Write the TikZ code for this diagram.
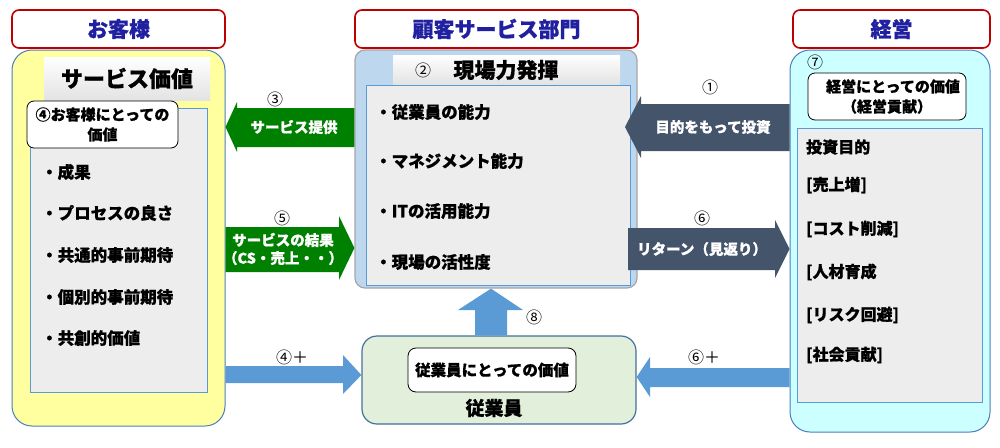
\documentclass[tikz,border=0pt]{standalone}
\usepackage{fontspec}
\setmainfont{Noto Sans CJK JP}[BoldFeatures={FakeBold=0.8}]
\newcommand\fsz[2]{\fontsize{#1}{#2}\selectfont}
\definecolor{hdrred}{RGB}{192,0,0}
\definecolor{navy}{RGB}{32,32,160}
\definecolor{custyel}{RGB}{255,255,160}
\definecolor{pborder}{RGB}{74,126,187}
\definecolor{ibox}{RGB}{237,237,237}
\definecolor{iborder}{RGB}{91,155,213}
\definecolor{midfill}{RGB}{189,215,238}
\definecolor{mgtfill}{RGB}{204,255,255}
\definecolor{grn}{RGB}{0,128,0}
\definecolor{slate}{RGB}{68,84,106}
\definecolor{barrow}{RGB}{91,155,213}
\definecolor{empfill}{RGB}{226,239,218}
\definecolor{empborder}{RGB}{65,113,156}
\begin{document}
\begin{tikzpicture}[x=1pt,y=-1pt,
  hdr/.style={draw=hdrred,line width=1.6pt,rounded corners=7pt,fill=white,
    minimum height=38pt,text=navy,font=\fsz{21}{24}\bfseries,inner sep=0pt},
  panel/.style={draw=pborder,line width=1pt,rounded corners=20pt,inner sep=0pt},
  inbox/.style={draw=iborder,line width=1pt,fill=ibox,inner sep=0pt},
  grad/.style={top color=white,bottom color=gray!22,
    inner sep=0pt,font=\fsz{22}{24}\bfseries},
  tag/.style={draw=black,line width=0.8pt,rounded corners=7pt,fill=white,
    inner sep=0pt,align=center,font=\fsz{15}{20}\bfseries},
  item/.style={anchor=west,inner sep=0pt,font=\fsz{16.5}{20}\bfseries},
  ritem/.style={anchor=west,inner sep=0pt,font=\fsz{16}{20}\bfseries},
  num/.style={inner sep=0pt,font=\fsz{16}{18}},
  atext/.style={inner sep=0pt,text=white,align=center,font=\fsz{14.5}{18}\bfseries}
]
\useasboundingbox (0,0) rectangle (1000,447);

% headers
\node[hdr,minimum width=213pt] (hc) at (118.5,29) {お客様};
\node[hdr,minimum width=283pt] (hs) at (496.5,29) {顧客サービス部門};
\node[hdr,minimum width=197pt] (hm) at (891.5,29) {経営};

% customer panel
\node[panel,fill=custyel,minimum width=213pt,minimum height=376pt] (cust) at (118.5,238) {};
\node[inbox,minimum width=177pt,minimum height=284pt] (custin) at (118.5,250) {};
\node[grad,minimum width=166pt,minimum height=43pt] (sv) at (127,78.5) {サービス価値};
\node[tag,minimum width=151pt,minimum height=47pt] (cv) at (102.5,124.5) {④お客様にとっての\\価値};
\node[item] (c1) at (41,172) {・成果};
\node[item] (c2) at (41,213) {・プロセスの良さ};
\node[item] (c3) at (41,255) {・共通的事前期待};
\node[item] (c4) at (41,297) {・個別的事前期待};
\node[item] (c5) at (41,338) {・共創的価値};

% service dept panel
\node[draw=gray!70,line width=1.2pt,fill=midfill,rounded corners=10pt,inner sep=0pt,
  minimum width=282pt,minimum height=238pt] (mid) at (496,169) {};
\node[grad,minimum width=227pt,minimum height=29pt] (gb) at (506.5,69.5) {};
\node[inner sep=0pt,font=\fsz{16}{18}] (n2) at (423,70) {②};
\node[inner sep=0pt,font=\fsz{21}{24}\bfseries] (gbt) at (506,70) {現場力発揮};
\node[inbox,minimum width=264pt,minimum height=200pt] (midin) at (498,185) {};
\node[item] (m1) at (375,112) {・従業員の能力};
\node[item] (m2) at (375,161) {・マネジメント能力};
\node[item] (m3) at (375,211) {・ITの活用能力};
\node[item] (m4) at (375,262) {・現場の活性度};

% management panel
\node[panel,fill=mgtfill,minimum width=200pt,minimum height=382pt] (mgt) at (890,241) {};
\node[num] (n7) at (815,62) {⑦};
\node[inbox,minimum width=185pt,minimum height=274pt] (mgtin) at (889.5,265) {};
\node[tag,minimum width=158pt,minimum height=47pt] (mv) at (887,96.5) {\hspace*{12pt}経営にとっての価値\\（経営貢献）};
\node[ritem] (r1) at (806,147) {投資目的};
\node[ritem] (r2) at (806,185) {[売上増]};
\node[ritem] (r3) at (806,229) {[コスト削減]};
\node[ritem] (r4) at (806,272) {[人材育成};
\node[ritem] (r5) at (806,315) {[リスク回避]};
\node[ritem] (r6) at (806,355) {[社会貢献]};

% employee box
\node[draw=empborder,line width=1.2pt,fill=empfill,rounded corners=15pt,inner sep=0pt,
  minimum width=274pt,minimum height=88pt] (emp) at (499,380) {};
\node[tag,rounded corners=8pt,minimum width=168pt,minimum height=44pt,font=\fsz{15.5}{18}\bfseries] (ev) at (492,370) {従業員にとっての価値};
\node[inner sep=0pt,font=\fsz{19}{22}\bfseries] (el) at (494,408) {従業員};

% arrows
% (3) service provision, leftwards
\fill[grn] (mid.west|-0,108) -- (237,108) -- (237,102) -- (cust.east|-0,127) -- (237,152) -- (237,147) -- (mid.west|-0,147) -- cycle;
\node[atext] (a3) at (294,127) {サービス提供};
\node[num] (n3) at (275,99) {③};
% (5) service result, rightwards
\fill[grn] (cust.east|-0,227) -- (339,227) -- (339,216) -- (mid.west|-0,248) -- (339,280) -- (339,272) -- (cust.east|-0,272) -- cycle;
\node[atext] (a5) at (283,249) {サービスの結果\\（CS・売上・・）};
\node[num] (n5) at (282,218) {⑤};
% (1) investment, leftwards
\fill[slate] (mgt.west|-0,104) -- (641,104) -- (641,96) -- (625,127) -- (641,158) -- (641,151) -- (mgt.west|-0,151) -- cycle;
\node[atext] (a1) at (713,127) {目的をもって投資};
\node[num] (n1) at (710,87) {①};
% (6) return, rightwards
\fill[slate] (628,228) -- (775,228) -- (775,220) -- (mgt.west|-0,249) -- (775,278) -- (775,270) -- (628,270) -- cycle;
\node[atext] (a6) at (702,249) {リターン（見返り）};
\node[num] (n6) at (702,218) {⑥};
% (4)+ rightwards
\fill[barrow] (cust.east|-0,366) -- (343,366) -- (343,355) -- (emp.west|-0,375) -- (343,394) -- (343,383) -- (cust.east|-0,383) -- cycle;
\node[num] (n4p) at (292,357) {④＋};
% (6)+ leftwards
\fill[barrow] (mgt.west|-0,368) -- (650,368) -- (650,357) -- (emp.east|-0,377) -- (650,397) -- (650,387) -- (mgt.west|-0,387) -- cycle;
\node[num] (n6p) at (704,357) {⑥＋};
% (8) upwards
\fill[barrow] (475,0|-emp.north) -- (475,310) -- (458,310) -- (491,0|-mid.south) -- (523,310) -- (507,310) -- (507,0|-emp.north) -- cycle;
\node[num] (n8) at (534,317) {⑧};
\end{tikzpicture}
\end{document}
